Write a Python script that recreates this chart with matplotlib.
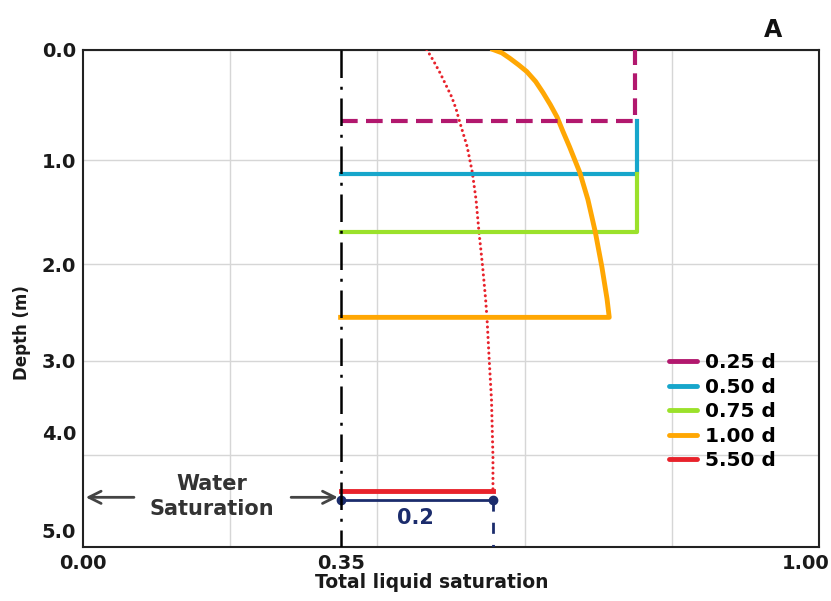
"""Total liquid saturation vs depth (panel A): wetting-front profiles."""

import matplotlib

matplotlib.use("Agg")
import matplotlib.pyplot as plt
import matplotlib.transforms as mtransforms
import numpy as np

plt.rcParams["font.family"] = ["DejaVu Sans"]
plt.rcParams["font.weight"] = "bold"

# --------------------------------------------------------------------------- #
# Data
# --------------------------------------------------------------------------- #
water_sat = 0.35

labels = ["0.25 d", "0.50 d", "0.75 d", "1.00 d", "5.50 d"]
colors = ["#B2186E", "#17A6CB", "#9BE12B", "#FFA703", "#E8222B"]

# step profiles: front back to water saturation
sat_025 = [0.35, 0.750, 0.750]
depth_025 = [0.65, 0.65, 0.0]
sat_050 = [0.35, 0.753, 0.753]
depth_050 = [1.13, 1.13, 0.65]
sat_075 = [0.35, 0.753, 0.753]
depth_075 = [1.69, 1.69, 1.13]

# 1.00 d: curved profile then front
sat_100 = [0.557, 0.569, 0.580, 0.592, 0.603, 0.615, 0.625, 0.635, 0.644,
           0.652, 0.661, 0.675, 0.686, 0.696, 0.705, 0.712, 0.715, 0.35]
depth_100 = [0.0, 0.03, 0.08, 0.14, 0.20, 0.29, 0.39, 0.50, 0.61,
             0.74, 0.88, 1.12, 1.38, 1.69, 2.03, 2.36, 2.55, 2.55]

# 5.50 d: dotted profile + front
sat_550 = [0.467, 0.476, 0.485, 0.493, 0.501, 0.507, 0.512, 0.522, 0.529,
           0.534, 0.538, 0.543, 0.547, 0.549, 0.552, 0.555, 0.557, 0.557]
depth_550 = [0.0, 0.10, 0.21, 0.32, 0.43, 0.54, 0.66, 0.88, 1.12,
             1.38, 1.69, 2.03, 2.36, 2.57, 3.00, 3.41, 4.02, 4.39]
front_550 = 4.39

# 0.2 bracket
bracket_sat = [0.35, 0.557]
bracket_depth = 4.49

x_ticks = [0.0, 0.35, 1.0]
x_ticklabels = ["0.00", "0.35", "1.00"]
y_ticks = [0, 1, 2, 3, 4, 5]
y_ticklabels = ["0.0", "1.0", "2.0", "3.0", "4.0", "5.0"]

# the source depth axis is not evenly spaced: pixel rows of its gridlines
grid_px = np.array([49.5, 160, 264, 361, 455, 547])
grid_frac = (grid_px - grid_px[0]) / (grid_px[-1] - grid_px[0])
grid_depth = np.array(y_ticks, dtype=float)


def _fwd(d):
    return np.interp(d, grid_depth, grid_frac)


def _inv(f):
    return np.interp(f, grid_frac, grid_depth)


# --------------------------------------------------------------------------- #
# Figure
# --------------------------------------------------------------------------- #
fig = plt.figure(figsize=(8.31, 6.01), dpi=100)
ax = fig.add_axes([83 / 831, 1 - 547 / 601, 736 / 831, 497.5 / 601])

ax.set_yscale("function", functions=(_fwd, _inv))
ax.set_xlim(0, 1)
ax.set_ylim(5, 0)

# water saturation line
ax.plot([water_sat, water_sat], [0, 5], color="black", lw=1.8,
        dashes=(11, 3.5, 1.2, 3.5), zorder=6)

lw = 3.0
ax.plot(sat_025, depth_025, color=colors[0], lw=lw, dashes=(4, 2), zorder=5)
ax.plot(sat_050, depth_050, color=colors[1], lw=lw, zorder=4)
ax.plot(sat_075, depth_075, color=colors[2], lw=lw, zorder=4)
ax.plot(sat_100, depth_100, color=colors[3], lw=3.5, zorder=4,
        solid_joinstyle="round")
ax.plot(sat_550, depth_550, color=colors[4], lw=2.2, ls=(0, (0.01, 1.7)),
        dash_capstyle="round", zorder=3)
ax.plot([water_sat, sat_550[-1]], [front_550, front_550], color=colors[4],
        lw=3.5, zorder=4)

# 0.2 bracket
navy = "#1B2C6C"
ax.plot(bracket_sat, [bracket_depth, bracket_depth], color=navy, lw=2.0,
        marker="o", ms=6, zorder=5)
ax.plot([bracket_sat[1], bracket_sat[1]], [bracket_depth, 5], color=navy,
        lw=2.0, dashes=(4, 4), zorder=5)
ax.text(0.452, 4.68, "0.2", color=navy, fontsize=15, fontweight="bold",
        ha="center", va="center")

# water saturation annotation
ax.text(0.175, 4.45, "Water\nSaturation", color="#333333", fontsize=15,
        fontweight="bold", ha="center", va="center", linespacing=1.3)
arrow = dict(arrowstyle="->", color="#444444", lw=2.0, mutation_scale=22)
ax.annotate("", xy=(0.0, 4.46), xytext=(0.073, 4.46), arrowprops=arrow)
ax.annotate("", xy=(water_sat, 4.46), xytext=(0.279, 4.46), arrowprops=arrow)

# axes / grid
ax.set_xticks(x_ticks)
ax.set_xticklabels(x_ticklabels)
ax.set_xticks([0.2, 0.4, 0.6, 0.8], minor=True)
ax.set_yticks(y_ticks)
ax.set_yticklabels(y_ticklabels)
ax.yaxis.set_minor_locator(matplotlib.ticker.NullLocator())
ax.tick_params(which="both", length=0, labelsize=14, colors="#1a1a1a")
ax.tick_params(axis="x", pad=5)
ax.tick_params(axis="y", pad=5)
ax.grid(True, axis="x", which="minor", color="#D6D6D6", lw=1.0)
ax.grid(True, axis="y", which="major", color="#D6D6D6", lw=1.0)
for s in ax.spines.values():
    s.set_color("#222222")
    s.set_linewidth(1.5)

# label nudges as in the source figure
xl = ax.get_xticklabels()
xl[-1].set_transform(xl[-1].get_transform()
                     + mtransforms.ScaledTranslation(-13 / 100, 0, fig.dpi_scale_trans))
yl = ax.get_yticklabels()
for lbl, up in zip(yl[4:], (22, 17)):
    lbl.set_transform(lbl.get_transform()
                      + mtransforms.ScaledTranslation(0, up / 100, fig.dpi_scale_trans))

fig.text(432 / 831, 1 - 583 / 601, "Total liquid saturation", fontsize=13.5,
         fontweight="bold", ha="center", va="center", color="#1a1a1a")
fig.text(22 / 831, 1 - 333 / 601, "Depth (m)", fontsize=12, fontweight="bold",
         rotation=90, ha="center", va="center", color="#1a1a1a")
fig.text(773 / 831, 1 - 30 / 601, "A", fontsize=17, fontweight="bold",
         ha="center", va="center", color="#111111")

# legend
handles = [plt.Line2D([], [], color=c, lw=3.5, solid_capstyle="round") for c in colors]
ax.legend(handles, labels, loc="upper left", bbox_to_anchor=(0.796, 0.389),
          frameon=False, handlelength=1.4, handletextpad=0.4,
          labelspacing=0.27, borderpad=0, borderaxespad=0,
          prop={"weight": "bold", "size": 14.5})

fig.savefig("out.png", dpi=100)
plt.close(fig)
